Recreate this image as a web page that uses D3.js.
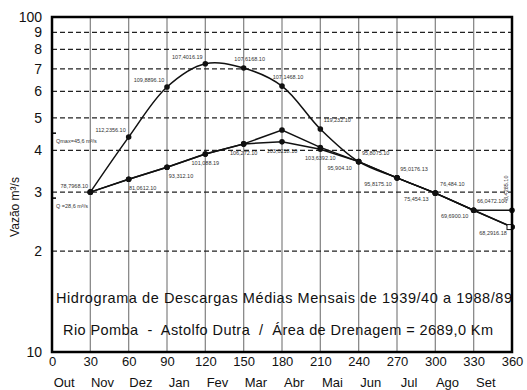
<!DOCTYPE html>
<html>
<head>
<meta charset="utf-8">
<script src="https://cdn.jsdelivr.net/npm/d3@7"></script>
<style>
  body { margin: 0; background: #fff; }
  svg { font-family: "Liberation Sans", Arial, sans-serif; }
</style>
</head>
<body>
<div id="chart"></div>
<script>
// days of the hydrological year (Out -> Set)
const days = [30, 60, 90, 120, 150, 180, 210, 240, 270, 300, 330, 360];
const months = ["Out", "Nov", "Dez", "Jan", "Fev", "Mar", "Abr", "Mai", "Jun", "Jul", "Ago", "Set"];

// discharge m3/s
const serieMax = [30, 43.8, 61.8, 72.5, 70.4, 62.2, 46.3, 37.0, 33.1, 29.8, 26.5, 23.6];
const serieMed = [30, 32.8, 35.6, 39.0, 41.8, 46.0, 40.8, 37.0, 33.1, 29.8, 26.5, 26.5];
const serieMin = [30, 32.8, 35.6, 39.0, 41.8, 42.4, 40.3, 37.0, 33.1, 29.8, 26.5, 23.6];

// tiny point annotations (mostly illegible in the scan)
const labelsMax = ["", "112,2356.10", "109,8896.10", "107,4016.19", "107,6168.10", "107,1468.10",
  "119,232.10", "95,8075.10", "95,0176.13", "76,484.10", "66,0472.10", ""];
const labelsMed = ["78,7968.10", "", "", "", "", "", "", "", "", "", "", ""];
const labelsMin = ["", "81,0612.10", "93,312.10", "101,088.19", "106,272.10", "103,0218.10", "103,6392.10",
  "95,904.10", "95,8175.10", "75,454.13", "69,6900.10", "68,2916.18"];

const xTicks = [0, 30, 60, 90, 120, 150, 180, 210, 240, 270, 300, 330, 360];
const yTicks = [10, 20, 30, 40, 50, 60, 70, 80, 90, 100];
const yTickLabels = ["10", "2", "3", "4", "5", "6", "7", "8", "9", "100"];
const yGrid = [20, 30, 40, 50, 60, 70, 80, 90];

const qRefs = [45.0, 28.8];
const qLabels = ["Qmax=45,6 m³/s", "Q =28,6 m³/s"];

const titleLines = [
  "Hidrograma de Descargas Médias Mensais de 1939/40 a 1988/89",
  "Rio Pomba  -  Astolfo Dutra  /  Área de Drenagem = 2689,0 Km"
];

const width = 527, height = 390;
const margin = { top: 17, right: 15, bottom: 38, left: 52 };

const svg = d3.select("#chart").append("svg")
  .attr("width", width)
  .attr("height", height);

const x = d3.scaleLinear().domain([0, 360]).range([margin.left, width - margin.right]);
const y = d3.scaleLog().domain([10, 100]).range([height - margin.bottom, margin.top]);

// vertical grid
svg.append("g")
  .selectAll("line")
  .data(xTicks.slice(1, -1))
  .join("line")
  .attr("x1", d => x(d)).attr("x2", d => x(d))
  .attr("y1", y(100)).attr("y2", y(10))
  .attr("stroke", "#8a8a8a")
  .attr("stroke-width", 1.3);

// horizontal dashed grid
svg.append("g")
  .selectAll("line")
  .data(yGrid)
  .join("line")
  .attr("x1", x(0)).attr("x2", x(360))
  .attr("y1", d => y(d)).attr("y2", d => y(d))
  .attr("stroke", "#222")
  .attr("stroke-width", 1.3)
  .attr("stroke-dasharray", "5,3");

// axes (labels only)
const yAxis = svg.append("g")
  .attr("transform", "translate(" + x(0) + ",0)")
  .call(d3.axisLeft(y).tickValues(yTicks).tickSize(0).tickPadding(10)
    .tickFormat((d, i) => yTickLabels[i]));
yAxis.select(".domain").remove();
yAxis.selectAll("text").attr("font-size", 14).attr("fill", "#111")
  .attr("font-family", "Liberation Sans, Arial, sans-serif");

const xAxis = svg.append("g")
  .attr("transform", "translate(0," + y(10) + ")")
  .call(d3.axisBottom(x).tickValues(xTicks).tickSize(0).tickPadding(5).tickFormat(d3.format("d")));
xAxis.select(".domain").remove();
xAxis.selectAll("text").attr("font-size", 13).attr("fill", "#111")
  .attr("font-family", "Liberation Sans, Arial, sans-serif");

// month names under the day ticks
svg.append("g")
  .selectAll("text")
  .data(months)
  .join("text")
  .attr("x", (d, i) => x(15 + 30 * i) - 7)
  .attr("y", 387)
  .attr("text-anchor", "middle")
  .attr("font-size", 13)
  .attr("fill", "#111")
  .text(d => d);

// y axis title
svg.append("text")
  .attr("transform", "translate(19,207) rotate(-90)")
  .attr("text-anchor", "middle")
  .attr("font-size", 12)
  .attr("fill", "#111")
  .text("Vazão m³/s");

// reference marks on the left
svg.append("g")
  .selectAll("line")
  .data(qRefs)
  .join("line")
  .attr("x1", x(0)).attr("x2", x(0) + 4)
  .attr("y1", d => y(d)).attr("y2", d => y(d))
  .attr("stroke", "#000").attr("stroke-width", 1.5);
svg.append("g")
  .selectAll("text")
  .data(qLabels)
  .join("text")
  .attr("x", x(0) + 4)
  .attr("y", (d, i) => y(qRefs[i]) + 10)
  .attr("font-size", 5.5)
  .attr("fill", "#333")
  .text(d => d);

// series
const lineLin = d3.line().x((d, i) => x(days[i])).y(d => y(d));
const lineSmooth = d3.line().x((d, i) => x(days[i])).y(d => y(d)).curve(d3.curveCatmullRom.alpha(0.5));

// label offsets: upper curve labels sit above, lower ones below; they swap side after the peak
const series = [
  { values: serieMax, labels: labelsMax, line: lineSmooth,
    dx: i => i <= 3 ? -18 : (i <= 5 ? 6 : 17), dy: i => i <= 3 ? -5 : -7 },
  { values: serieMed, labels: labelsMed, line: lineLin,
    dx: i => -16, dy: i => -4 },
  { values: serieMin, labels: labelsMin, line: lineLin,
    dx: i => i <= 2 ? 14 : (i <= 6 ? 0 : -19), dy: i => i <= 6 ? 11 : 8 }
];

series.forEach(s => {
  svg.append("path")
    .datum(s.values)
    .attr("fill", "none")
    .attr("stroke", "#111")
    .attr("stroke-width", 1.5)
    .attr("d", s.line);

  svg.append("g")
    .selectAll("circle")
    .data(s.values)
    .join("circle")
    .attr("cx", (d, i) => x(days[i]))
    .attr("cy", d => y(d))
    .attr("r", 2.8)
    .attr("fill", "#111");

  svg.append("g")
    .selectAll("text")
    .data(s.labels)
    .join("text")
    .attr("x", (d, i) => Math.min(x(days[i]) + s.dx(i), x(360) - 18))
    .attr("y", (d, i) => y(s.values[i]) + s.dy(i))
    .attr("text-anchor", "middle")
    .attr("font-size", 5.5)
    .attr("fill", "#333")
    .text(d => d);
});

// open square at the end of the lowest curve
svg.append("rect")
  .attr("x", x(360) - 5).attr("y", y(serieMin[11]) - 2.5)
  .attr("width", 5).attr("height", 5)
  .attr("fill", "#fff").attr("stroke", "#111").attr("stroke-width", 1);

// rotated label on the right edge
svg.append("text")
  .attr("transform", "translate(" + (x(360) - 4) + "," + y(30.6) + ") rotate(-90)")
  .attr("text-anchor", "middle")
  .attr("font-size", 5.5)
  .attr("fill", "#333")
  .text("48,4285.10");

// titles inside plot
const titleWidths = [456, 430];
svg.append("g")
  .selectAll("text")
  .data(titleLines)
  .join("text")
  .attr("x", (d, i) => i === 0 ? 284 : 278)
  .attr("y", (d, i) => 303 + i * 32)
  .attr("text-anchor", "middle")
  .attr("font-size", 14.5)
  .attr("fill", "#111")
  .style("white-space", "pre")
  .attr("textLength", (d, i) => titleWidths[i])
  .attr("lengthAdjust", "spacing")
  .text(d => d);

// frame
svg.append("rect")
  .attr("x", x(0)).attr("y", y(100))
  .attr("width", x(360) - x(0)).attr("height", y(10) - y(100))
  .attr("fill", "none")
  .attr("stroke", "#000")
  .attr("stroke-width", 2.5);
</script>
</body>
</html>
